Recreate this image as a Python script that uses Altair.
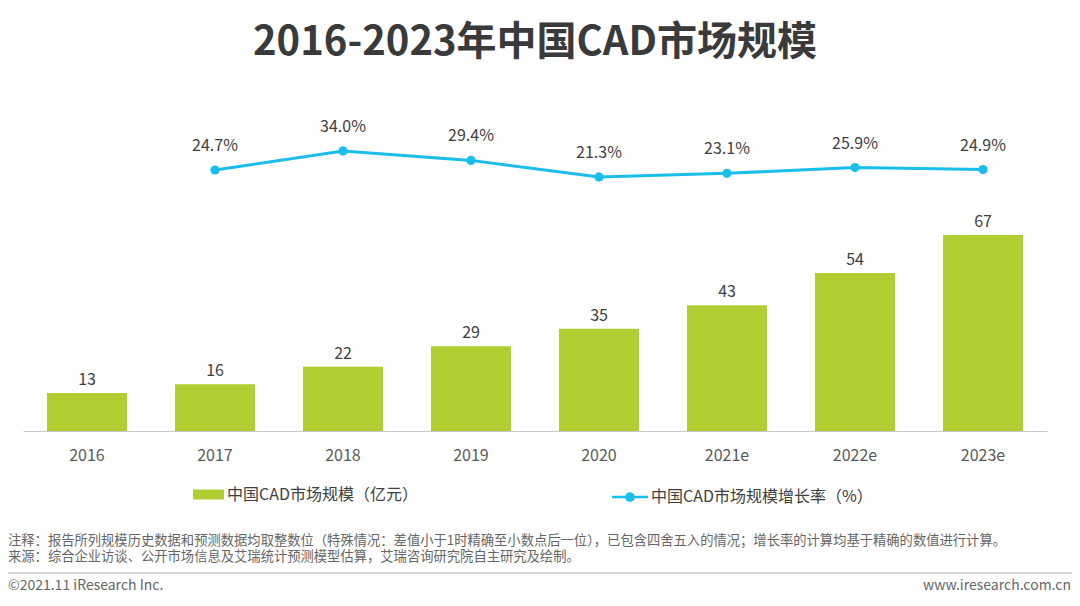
import altair as alt
import pandas as pd

years = ["2016", "2017", "2018", "2019", "2020", "2021e", "2022e", "2023e"]
market_size = [13, 16, 22, 29, 35, 43, 54, 67]
growth_years = ["2017", "2018", "2019", "2020", "2021e", "2022e", "2023e"]
growth_rate = [24.7, 34.0, 29.4, 21.3, 23.1, 25.9, 24.9]

bar_name = "中国CAD市场规模（亿元）"
line_name = "中国CAD市场规模增长率（%）"
title_text = "2016-2023年中国CAD市场规模"
note1 = "注释：报告所列规模历史数据和预测数据均取整数位（特殊情况：差值小于1时精确至小数点后一位），已包含四舍五入的情况；增长率的计算均基于精确的数值进行计算。"
note2 = "来源：综合企业访谈、公开市场信息及艾瑞统计预测模型估算，艾瑞咨询研究院自主研究及绘制。"
footer_left = "©2021.11 iResearch Inc."
footer_right = "www.iresearch.com.cn"

FONT = "Noto Sans CJK SC"
GREEN = "#B0CE32"
CYAN = "#1BBDEB"
TXT = "#404040"

bar_df = pd.DataFrame({"year": years, "value": market_size, "series": bar_name})
line_df = pd.DataFrame({"year": growth_years, "rate": growth_rate, "series": line_name})
line_df["label"] = line_df["rate"].map(lambda v: f"{v:.1f}%")

x_enc = alt.X("year:N", sort=years, title=None,
              scale=alt.Scale(paddingInner=0.375, paddingOuter=0.1875),
              axis=alt.Axis(labelAngle=0, labelFontSize=16, labelColor="#595959",
                            labelFont=FONT, ticks=False, domainColor="#c8c8c8",
                            labelPadding=16, grid=False))

ybar = alt.Y("value:Q", scale=alt.Scale(domain=[0, 113.2], nice=False), axis=None)

bars = alt.Chart(bar_df).mark_bar(size=80).encode(
    x=x_enc,
    y=ybar,
    color=alt.Color("series:N", scale=alt.Scale(range=[GREEN]),
                    legend=alt.Legend(orient="none", legendX=170, legendY=379, title=None,
                                      symbolType="M-1,-0.32H1V0.32H-1Z", symbolSize=961,
                                      symbolStrokeWidth=0, labelFontSize=16, labelColor=TXT,
                                      labelFont=FONT, labelOffset=3, labelLimit=400)),
)
bar_text = alt.Chart(bar_df).mark_text(baseline="bottom", dy=-5, fontSize=16,
                                       color=TXT, font=FONT).encode(
    x=alt.X("year:N", sort=years), y=ybar, text="value:Q")

yline = alt.Y("rate:Q", scale=alt.Scale(domain=[-102.8, 58.9], nice=False, zero=False), axis=None)

line = alt.Chart(line_df).mark_line(color=CYAN, strokeWidth=3).encode(
    x=alt.X("year:N", sort=years), y=yline)
points = alt.Chart(line_df).mark_point(filled=True, size=85, opacity=1).encode(
    x=alt.X("year:N", sort=years), y=yline,
    color=alt.Color("series:N", scale=alt.Scale(range=[CYAN]),
                    legend=alt.Legend(orient="none", legendX=589, legendY=379, title=None,
                                      symbolType="M-1,-0.07H1V0.07H-1Z M0.27,0 A0.27,0.27 0 1,1 -0.27,0 A0.27,0.27 0 1,1 0.27,0Z",
                                      symbolSize=1296, symbolStrokeWidth=0,
                                      symbolFillColor=CYAN, labelFontSize=16,
                                      labelColor=TXT, labelFont=FONT, labelOffset=3,
                                      labelLimit=400)),
)
line_text = alt.Chart(line_df).mark_text(baseline="bottom", dy=-16, fontSize=16,
                                         color=TXT, font=FONT).encode(
    x=alt.X("year:N", sort=years), y=yline, text="label:N")

deco_df = pd.DataFrame({"t": [0]})
notes = alt.Chart(deco_df).mark_text(align="left", baseline="middle", fontSize=13.3,
                                     lineHeight=15.5, color="#666666", font=FONT,
                                     text=[note1, note2]).encode(
    x=alt.value(-15), y=alt.value(441))
sep = alt.Chart(deco_df).mark_rule(color="#c8c8c8", strokeWidth=1.5).encode(
    x=alt.value(-18), x2=alt.value(1049), y=alt.value(473))
foot_l = alt.Chart(deco_df).mark_text(align="left", baseline="middle", fontSize=14,
                                      color="#666666", font=FONT, text=footer_left).encode(
    x=alt.value(-15), y=alt.value(486))
foot_r = alt.Chart(deco_df).mark_text(align="right", baseline="middle", fontSize=14,
                                      color="#666666", font=FONT, text=footer_right).encode(
    x=alt.value(1048), y=alt.value(486))

chart = alt.layer(
    alt.layer(bars, bar_text),
    alt.layer(line, points, line_text),
    notes, sep, foot_l, foot_r,
).resolve_scale(y="independent", color="independent").properties(
    width=1024, height=331,
    title=alt.Title(title_text, fontSize=40, fontWeight="bold", color="#3a3a3a",
                    font=FONT, anchor="middle", offset=37),
    autosize=alt.AutoSizeParams(type="none"),
    padding={"left": 15, "top": 92, "right": 25, "bottom": 167},
).configure_view(stroke=None)

chart.save("out.html", embed_options={"renderer": "svg", "actions": False})
